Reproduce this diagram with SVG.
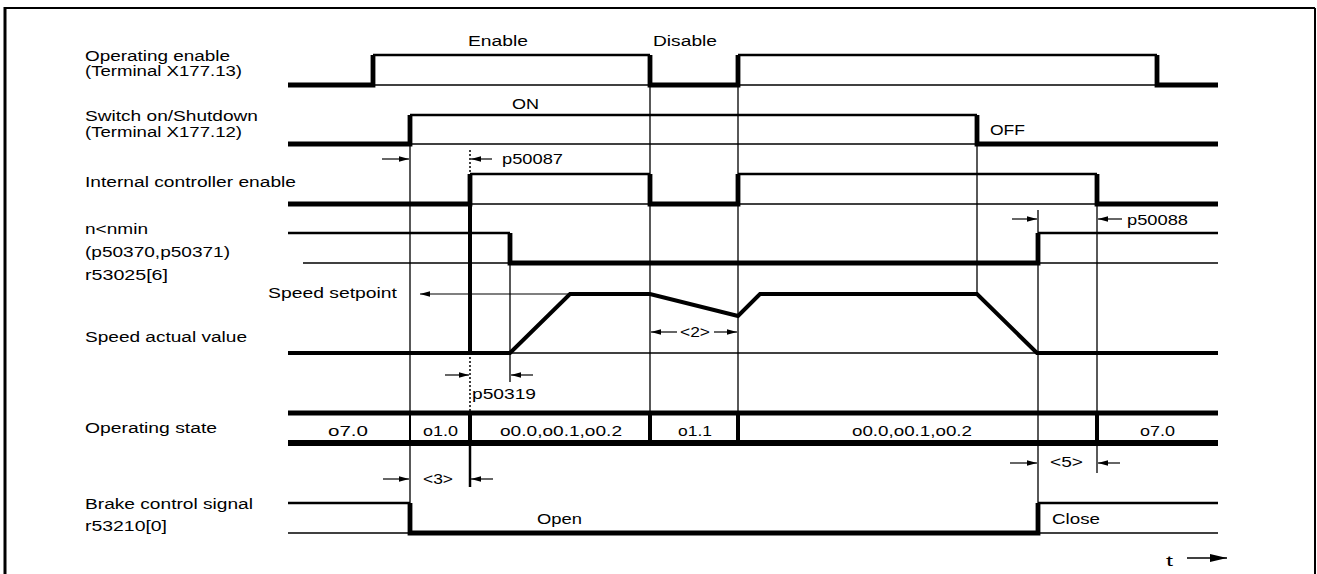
<svg xmlns="http://www.w3.org/2000/svg" width="1317" height="574" viewBox="0 0 1317 574">
<style>
text { font-family: "Liberation Sans", Arial, Helvetica, sans-serif; font-size: 15.5px; fill: #000; }
.thin { stroke: #000; stroke-width: 1.3; fill: none; }
.hi { stroke: #000; stroke-width: 2.7; fill: none; }
.lo { stroke: #000; stroke-width: 4.8; fill: none; stroke-linejoin: miter; }
.spd { stroke: #000; stroke-width: 4; fill: none; stroke-linejoin: miter; }
.sep { stroke: #000; stroke-width: 4; fill: none; }
.dim { stroke: #000; stroke-width: 1.2; fill: none; marker-end: url(#ah); }
.dot { stroke: #000; stroke-width: 1.5; stroke-dasharray: 2 2; fill: none; }
.frame { stroke: #000; fill: none; }
</style>
<defs>
<marker id="ah" markerUnits="userSpaceOnUse" markerWidth="11" markerHeight="7" refX="10" refY="3.5" orient="auto">
<path d="M0,0.8 L10,3.5 L0,6.2 z" fill="#000"/>
</marker>
<marker id="ahT" markerUnits="userSpaceOnUse" markerWidth="18" markerHeight="9" refX="17" refY="4.5" orient="auto">
<path d="M0,0.5 L17,4.5 L0,8.5 z" fill="#000"/>
</marker>
</defs>
<rect width="1317" height="574" fill="#fff"/>
<g id="frame">
<line class="frame" x1="5" y1="7" x2="5" y2="574" stroke-width="3"/>
<line class="frame" x1="4" y1="8" x2="1315" y2="8" stroke-width="2"/>
<line class="frame" x1="1315" y1="8" x2="1315" y2="574" stroke-width="2"/>
</g>

<g id="labels">
<text x="85" y="61" textLength="145" lengthAdjust="spacingAndGlyphs">Operating enable</text>
<text x="85" y="76" textLength="157" lengthAdjust="spacingAndGlyphs">(Terminal X177.13)</text>
<text x="85" y="121" textLength="173" lengthAdjust="spacingAndGlyphs">Switch on/Shutdown</text>
<text x="85" y="137" textLength="157" lengthAdjust="spacingAndGlyphs">(Terminal X177.12)</text>
<text x="85" y="187" textLength="211" lengthAdjust="spacingAndGlyphs">Internal controller enable</text>
<text x="85" y="234" textLength="63" lengthAdjust="spacingAndGlyphs">n&lt;nmin</text>
<text x="85" y="257" textLength="145" lengthAdjust="spacingAndGlyphs">(p50370,p50371)</text>
<text x="85" y="280" textLength="83" lengthAdjust="spacingAndGlyphs">r53025[6]</text>
<text x="268" y="298" textLength="129" lengthAdjust="spacingAndGlyphs">Speed setpoint</text>
<text x="85" y="342" textLength="162" lengthAdjust="spacingAndGlyphs">Speed actual value</text>
<text x="85" y="433" textLength="132" lengthAdjust="spacingAndGlyphs">Operating state</text>
<text x="85" y="509" textLength="168" lengthAdjust="spacingAndGlyphs">Brake control signal</text>
<text x="85" y="531" textLength="82" lengthAdjust="spacingAndGlyphs">r53210[0]</text>
</g>

<g id="sig-operating-enable">
<line class="thin" x1="288" y1="85" x2="1218" y2="85"/>
<path class="hi" d="M373,55 H650 M738,55 H1157"/>
<path class="lo" d="M288,85 H373 V55 M650,55 V85 H738 V55 M1157,55 V85 H1218"/>
<text x="468" y="46" textLength="60" lengthAdjust="spacingAndGlyphs">Enable</text>
<text x="653" y="46" textLength="64" lengthAdjust="spacingAndGlyphs">Disable</text>
</g>

<g id="sig-switch-on">
<line class="thin" x1="288" y1="144" x2="1218" y2="144"/>
<path class="hi" d="M410,115 H977"/>
<path class="lo" d="M288,144 H410 V115 M977,115 V144 H1218"/>
<text x="512" y="109" textLength="27" lengthAdjust="spacingAndGlyphs">ON</text>
<text x="990" y="135" textLength="35" lengthAdjust="spacingAndGlyphs">OFF</text>
</g>

<g id="sig-controller-enable">
<line class="thin" x1="288" y1="204" x2="1218" y2="204"/>
<path class="hi" d="M470,174 H650 M738,174 H1097"/>
<path class="lo" d="M288,204 H470 V174 M650,174 V204 H738 V174 M1097,174 V204 H1218"/>
</g>

<g id="sig-nmin">
<line class="thin" x1="303" y1="263" x2="1218" y2="263"/>
<path class="hi" d="M288,233 H510 M1038,233 H1218"/>
<path class="lo" d="M510,233 V263 H1038 V233"/>
</g>

<g id="sig-speed">
<line class="thin" x1="510" y1="353" x2="1037" y2="353"/>
<line class="sep" x1="470" y1="204" x2="470" y2="353"/>
<path class="spd" d="M288,353 H510 L570,294 H650 L738,316 L760,294 H977 L1037,353 H1218"/>
</g>

<g id="sig-operating-state">
<line x1="288" y1="413" x2="1218" y2="413" stroke="#000" stroke-width="5"/>
<line x1="288" y1="443" x2="1218" y2="443" stroke="#000" stroke-width="6"/>
<line x1="410" y1="413" x2="410" y2="443" stroke="#000" stroke-width="2"/>
<path class="sep" d="M470,413 V443 M650,413 V443 M738,413 V443 M1097,413 V443"/>
<text x="328" y="436" textLength="40" lengthAdjust="spacingAndGlyphs">o7.0</text>
<text x="423" y="436" textLength="35" lengthAdjust="spacingAndGlyphs">o1.0</text>
<text x="500" y="436" textLength="122" lengthAdjust="spacingAndGlyphs">o0.0,o0.1,o0.2</text>
<text x="678" y="436" textLength="34" lengthAdjust="spacingAndGlyphs">o1.1</text>
<text x="852" y="436" textLength="120" lengthAdjust="spacingAndGlyphs">o0.0,o0.1,o0.2</text>
<text x="1140" y="436" textLength="35" lengthAdjust="spacingAndGlyphs">o7.0</text>
</g>

<g id="sig-brake">
<line class="thin" x1="288" y1="533" x2="1218" y2="533"/>
<path class="hi" d="M288,503 H410 M1038,503 H1218"/>
<path class="lo" d="M410,503 V533 H1038 V503"/>
<text x="537" y="524" textLength="45" lengthAdjust="spacingAndGlyphs">Open</text>
<text x="1052" y="524" textLength="48" lengthAdjust="spacingAndGlyphs">Close</text>
</g>

<g id="connectors">
<path class="thin" d="M410,144 V503 M650,55 V413 M738,55 V413 M977,144 V294 M1038,210 V503 M1097,204 V413 M510,263 V382"/>
<path class="dot" d="M470,150 V174 M470,353 V413"/>
<path class="thin" d="M1097,443 V473"/>
<line x1="470" y1="443" x2="470" y2="487" stroke="#000" stroke-width="2.5"/>
<line class="dim" x1="382" y1="159" x2="409" y2="159"/>
<line class="dim" x1="492" y1="159" x2="471" y2="159"/>
<text x="502" y="164" textLength="61" lengthAdjust="spacingAndGlyphs">p50087</text>
<line class="dim" x1="1012" y1="219" x2="1037" y2="219"/>
<line class="dim" x1="1122" y1="219" x2="1098" y2="219"/>
<text x="1127" y="225" textLength="61" lengthAdjust="spacingAndGlyphs">p50088</text>
<line class="dim" x1="570" y1="294" x2="420" y2="294"/>
<line class="dim" x1="677" y1="332" x2="651" y2="332"/>
<line class="dim" x1="714" y1="332" x2="737" y2="332"/>
<text x="680" y="337" textLength="30" lengthAdjust="spacingAndGlyphs">&lt;2&gt;</text>
<line class="dim" x1="445" y1="375" x2="469" y2="375"/>
<line class="dim" x1="533" y1="375" x2="511" y2="375"/>
<text x="472" y="399" textLength="64" lengthAdjust="spacingAndGlyphs">p50319</text>
<line class="dim" x1="383" y1="479" x2="409" y2="479"/>
<line class="dim" x1="493" y1="479" x2="471" y2="479"/>
<text x="423" y="484" textLength="30" lengthAdjust="spacingAndGlyphs">&lt;3&gt;</text>
<line class="dim" x1="1010" y1="463" x2="1037" y2="463"/>
<line class="dim" x1="1120" y1="463" x2="1098" y2="463"/>
<text x="1050" y="467" textLength="33" lengthAdjust="spacingAndGlyphs">&lt;5&gt;</text>
<line x1="1187" y1="558" x2="1227" y2="558" stroke="#000" stroke-width="1.5" marker-end="url(#ahT)"/>
<text x="1166" y="566" textLength="7" lengthAdjust="spacingAndGlyphs">t</text>
</g>
</svg>
